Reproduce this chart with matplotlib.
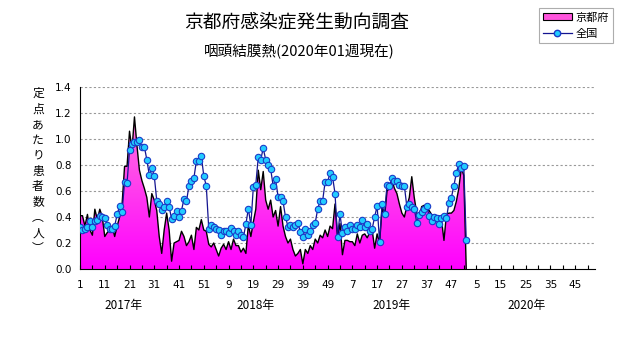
import matplotlib
matplotlib.use("Agg")
import matplotlib.pyplot as plt
import numpy as np
from matplotlib.patches import Patch
from matplotlib.lines import Line2D
from matplotlib.colors import LinearSegmentedColormap
import matplotlib.transforms as mtransforms

plt.rcParams['font.family'] = ['Noto Sans CJK JP', 'DejaVu Sans']

# weekly values (patients per sentinel)
kyoto_2017 = [0.41, 0.41, 0.33, 0.42, 0.30, 0.26, 0.46, 0.38, 0.46, 0.40,
              0.25, 0.28, 0.30, 0.33, 0.25, 0.33, 0.40, 0.50, 0.79, 0.79,
              1.06, 0.92, 1.17, 0.95, 0.76, 0.68, 0.62, 0.55, 0.40, 0.58,
              0.53, 0.45, 0.25, 0.12, 0.30, 0.43, 0.30, 0.06, 0.20, 0.21,
              0.22, 0.29, 0.25, 0.18, 0.21, 0.26, 0.15, 0.32, 0.30, 0.38,
              0.30, 0.29]
kyoto_2018 = [0.19, 0.17, 0.20, 0.15, 0.10, 0.16, 0.19, 0.15, 0.21, 0.15,
              0.23, 0.18, 0.18, 0.13, 0.16, 0.12, 0.34, 0.25, 0.36, 0.46,
              0.76, 0.61, 0.75, 0.53, 0.46, 0.53, 0.40, 0.45, 0.33, 0.48,
              0.33, 0.25, 0.20, 0.23, 0.15, 0.10, 0.12, 0.15, 0.04, 0.15,
              0.12, 0.18, 0.15, 0.23, 0.20, 0.26, 0.24, 0.30, 0.25, 0.33,
              0.31, 0.50]
kyoto_2019 = [0.25, 0.35, 0.11, 0.22, 0.22, 0.21, 0.21, 0.18, 0.27, 0.20,
              0.26, 0.27, 0.24, 0.28, 0.30, 0.16, 0.27, 0.20, 0.47, 0.40,
              0.60, 0.62, 0.68, 0.62, 0.58, 0.50, 0.43, 0.40, 0.48, 0.55,
              0.71, 0.55, 0.43, 0.40, 0.48, 0.49, 0.46, 0.45, 0.42, 0.40,
              0.39, 0.41, 0.38, 0.22, 0.42, 0.43, 0.43, 0.45, 0.52, 0.62,
              0.78, 0.72]
kyoto_2020 = [0.0]

zenkoku_2017 = [0.32, 0.30, 0.31, 0.32, 0.37, 0.32, 0.37, 0.38, 0.41, 0.40,
                0.39, 0.34, 0.31, 0.31, 0.33, 0.42, 0.485, 0.44, 0.67, 0.66,
                0.915, 0.965, 0.98, 0.975, 0.99, 0.94, 0.94, 0.84, 0.72, 0.78,
                0.715, 0.525, 0.50, 0.455, 0.48, 0.52, 0.48, 0.385, 0.41, 0.45,
                0.40, 0.45, 0.54, 0.52, 0.64, 0.68, 0.70, 0.83, 0.83, 0.87,
                0.715, 0.64]
zenkoku_2018 = [0.31, 0.335, 0.32, 0.31, 0.30, 0.26, 0.29, 0.29, 0.275, 0.315,
                0.29, 0.26, 0.29, 0.26, 0.245, 0.345, 0.465, 0.335, 0.63, 0.65,
                0.86, 0.84, 0.93, 0.84, 0.80, 0.77, 0.64, 0.69, 0.556, 0.556,
                0.52, 0.40, 0.325, 0.335, 0.325, 0.335, 0.356, 0.285, 0.245, 0.31,
                0.26, 0.29, 0.335, 0.356, 0.46, 0.525, 0.525, 0.67, 0.67, 0.74,
                0.71, 0.58]
zenkoku_2019 = [0.25, 0.42, 0.28, 0.325, 0.295, 0.34, 0.31, 0.31, 0.34, 0.325,
                0.38, 0.325, 0.35, 0.29, 0.31, 0.40, 0.485, 0.21, 0.50, 0.42,
                0.65, 0.64, 0.70, 0.68, 0.68, 0.646, 0.64, 0.64, 0.48, 0.50,
                0.48, 0.465, 0.356, 0.415, 0.44, 0.46, 0.487, 0.41, 0.37, 0.40,
                0.39, 0.346, 0.39, 0.41, 0.39, 0.51, 0.55, 0.64, 0.74, 0.81,
                0.78, 0.79]
zenkoku_2020 = [0.22]

years = ['2017年', '2018年', '2019年', '2020年']
year_label_pos = [18.5, 72, 127, 181.5]
tick_labels = ['1', '11', '21', '31', '41', '51', '9', '19', '29', '39', '49',
               '7', '17', '27', '37', '47', '5', '15', '25', '35', '45']

kyoto = np.array(kyoto_2017 + kyoto_2018 + kyoto_2019 + kyoto_2020)
zenkoku = np.array(zenkoku_2017 + zenkoku_2018 + zenkoku_2019 + zenkoku_2020)
x = np.arange(1, len(kyoto) + 1)

W, H = 631, 347
fig = plt.figure(figsize=(W / 100, H / 100), dpi=100)
ax = fig.add_axes([80 / W, 1 - 269 / H, (595 - 80) / W, (269 - 87) / H])

# pink area with vertical gradient
poly = ax.fill_between(x, kyoto, 0, color='none', lw=0)
cmap = LinearSegmentedColormap.from_list('pk', ['#ff00ff', '#ff77dd'])
grad = np.linspace(0, 1, 256).reshape(-1, 1)
im = ax.imshow(grad, extent=[1, len(kyoto), 0, 1.2], origin='lower',
               aspect='auto', cmap=cmap, zorder=1)
im.set_clip_path(poly.get_paths()[0], transform=ax.transData)
ax.plot(x, kyoto, color='black', lw=1.0, zorder=2)

ax.plot(x, zenkoku, color='#141490', lw=0.9, marker='o', markersize=4.6,
        markerfacecolor='#22ccff', markeredgecolor='#1a3cc8', markeredgewidth=0.8,
        zorder=3)

ax.set_xlim(1, 209)
ax.set_ylim(0, 1.4)
ax.set_yticks(np.arange(0, 1.41, 0.2))
ax.set_yticklabels(['%.1f' % v for v in np.arange(0, 1.41, 0.2)], fontsize=7.5,
                   family='DejaVu Sans')
for v in np.arange(0.2, 1.41, 0.2):
    ax.axhline(v, color='#999999', lw=0.8, ls=(0, (2, 2)), zorder=0)

ax.set_xticks(np.arange(1, 210, 10))
ax.set_xticklabels(tick_labels, fontsize=7.5, family='DejaVu Sans')
ax.set_xticks(np.arange(6, 210, 10), minor=True)
ax.tick_params(axis='x', which='both', direction='in', length=3, width=0.8, pad=8)
ax.tick_params(axis='y', direction='in', length=0, pad=6)
ax.spines['top'].set_visible(False)
ax.spines['right'].set_visible(False)
ax.spines['left'].set_linewidth(0.8)
ax.spines['bottom'].set_linewidth(0.8)

trans = mtransforms.blended_transform_factory(ax.transData, fig.transFigure)
for yr, pos in zip(years, year_label_pos):
    fig.text(pos, 1 - 305 / H, yr, transform=trans, ha='center', va='center',
             fontsize=8.5)

fig.text(297 / W, 1 - 22 / H, '京都府感染症発生動向調査', ha='center', va='center',
         fontsize=13.5)
fig.text(299 / W, 1 - 52 / H, '咽頭結膜熱(2020年01週現在)', ha='center', va='center',
         fontsize=10.5)

ylab = '\n'.join(list('定点あたり患者数')) + '\n︵\n人\n︶'
fig.text(38 / W, 1 - 171 / H, ylab, ha='center', va='center', fontsize=8.5,
         linespacing=1.25)

handles = [Patch(facecolor='#ff55dd', edgecolor='black', lw=0.8),
           Line2D([0], [0], color='#141490', lw=0.9, marker='o', markersize=4.6,
                  markerfacecolor='#22ccff', markeredgecolor='#1a3cc8')]
leg = fig.legend(handles, ['京都府', '全国'], loc='upper right',
                 bbox_to_anchor=(613 / W, 1 - 8 / H), fontsize=8,
                 frameon=True, fancybox=False, handlelength=2.6,
                 handleheight=0.6, borderpad=0.4, labelspacing=0.55,
                 handletextpad=0.3, borderaxespad=0)
leg.get_frame().set_edgecolor('#999999')
leg.get_frame().set_linewidth(0.8)

fig.savefig('out.png', dpi=100)
